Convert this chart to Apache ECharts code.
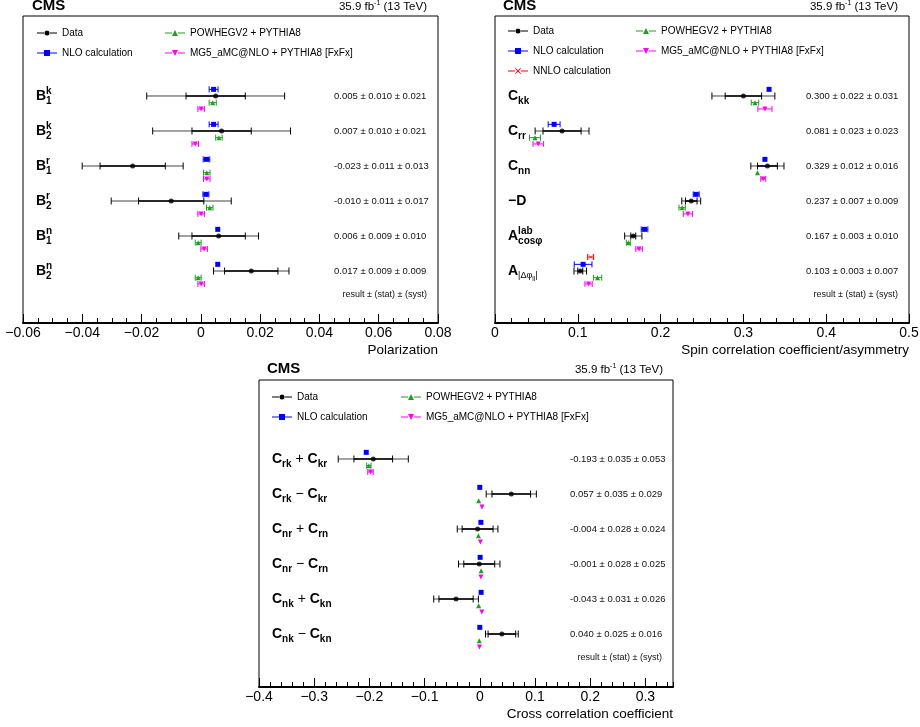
<!DOCTYPE html>
<html><head><meta charset="utf-8">
<script src="https://cdn.jsdelivr.net/npm/echarts/dist/echarts.min.js"></script>
<style>html,body{margin:0;padding:0;background:#fff}#c{width:920px;height:727px}</style>
</head><body><div id="c"></div>
<script>
const FONT = "'Liberation Sans', Arial, Helvetica, sans-serif";

// ---------- Panel 1: polarization ----------
const polLabels = [
  [['B','m'],['k','p'],['1','b']],
  [['B','m'],['k','p'],['2','b']],
  [['B','m'],['r','p'],['1','b']],
  [['B','m'],['r','p'],['2','b']],
  [['B','m'],['n','p'],['1','b']],
  [['B','m'],['n','p'],['2','b']]
];
const polData   = [0.005, 0.007, -0.023, -0.010, 0.006, 0.017];
const polStat   = [0.010, 0.010, 0.011, 0.011, 0.009, 0.009];
const polSyst   = [0.021, 0.021, 0.013, 0.017, 0.010, 0.009];
const polNLO    = [0.0043, 0.0043, 0.0019, 0.0017, 0.0057, 0.0057];
const polNLOErr = [0.0015, 0.0015, 0.0011, 0.0010, 0, 0];
const polPow    = [0.0040, 0.0061, 0.0020, 0.0030, -0.0009, -0.0009];
const polPowErr = [0.0012, 0.0011, 0.0011, 0.0011, 0.0010, 0.0010];
const polMG     = [0.0001, -0.0019, 0.0020, 0.0001, 0.0011, 0.0001];
const polMGErr  = [0.0011, 0.0011, 0.0011, 0.0011, 0.0011, 0.0011];
const polAxis   = [-0.06, 0.08, 0.02];   // min, max, interval

// ---------- Panel 2: spin correlations ----------
const spinLabels = [
  [['C','m'],['kk','b']],
  [['C','m'],['rr','b']],
  [['C','m'],['nn','b']],
  [['−D','m']],
  [['A','m'],['lab','p'],['cosφ','b']],
  [['A','m'],['|Δφ','bn'],['ll','bb'],['|','bn']]
];
const spinData    = [0.300, 0.081, 0.329, 0.237, 0.167, 0.103];
const spinStat    = [0.022, 0.023, 0.012, 0.007, 0.003, 0.003];
const spinSyst    = [0.031, 0.023, 0.016, 0.009, 0.010, 0.007];
const spinNLO     = [0.331, 0.0714, 0.326, 0.243, 0.1806, 0.1064];
const spinNLOErr  = [0, 0.0072, 0, 0.0036, 0.0040, 0.0107];
const spinNNLO    = [null, null, null, null, null, 0.1155];
const spinNNLOErr = [0, 0, 0, 0, 0, 0.0036];
const spinPow     = [0.314, 0.0483, 0.317, 0.226, 0.161, 0.1239];
const spinPowErr  = [0.0045, 0.0066, 0, 0.0038, 0.0024, 0.0050];
const spinMG      = [0.326, 0.0523, 0.324, 0.233, 0.174, 0.113];
const spinMGErr   = [0.0085, 0.0064, 0.0030, 0.0056, 0.0040, 0.0044];
const spinAxis    = [0, 0.5, 0.1];

// ---------- Panel 3: cross correlations ----------
const crossLabels = [
  [['C','m'],['rk','b'],[' + ','o'],['C','m'],['kr','b']],
  [['C','m'],['rk','b'],[' − ','o'],['C','m'],['kr','b']],
  [['C','m'],['nr','b'],[' + ','o'],['C','m'],['rn','b']],
  [['C','m'],['nr','b'],[' − ','o'],['C','m'],['rn','b']],
  [['C','m'],['nk','b'],[' + ','o'],['C','m'],['kn','b']],
  [['C','m'],['nk','b'],[' − ','o'],['C','m'],['kn','b']]
];
const crossData   = [-0.193, 0.057, -0.004, -0.001, -0.043, 0.040];
const crossStat   = [0.035, 0.035, 0.028, 0.028, 0.031, 0.025];
const crossSyst   = [0.053, 0.029, 0.024, 0.025, 0.026, 0.016];
const crossNLO    = [-0.2057, 0.0, 0.0020, 0.0006, 0.0024, 0.0];
const crossNLOErr = [0, 0, 0, 0, 0, 0];
const crossPow    = [-0.201, -0.002, -0.0025, 0.0024, -0.002, -0.001];
const crossPowErr = [0.004, 0, 0, 0, 0, 0];
const crossMG     = [-0.198, 0.004, 0.001, 0.002, 0.0036, -0.0006];
const crossMGErr  = [0.005, 0, 0, 0, 0, 0];
const crossAxis   = [-0.4, 0.35, 0.1];

const NAMES = {
  data: 'Data', nlo: 'NLO calculation', nnlo: 'NNLO calculation',
  pow: 'POWHEGV2 + PYTHIA8', mg: 'MG5_aMC@NLO + PYTHIA8 [FxFx]'
};
const COLORS = { data:'#000000', nlo:'#0000ff', nnlo:'#ff0000', pow:'#1f9f1f', mg:'#ff00ff' };

// ---------- helpers ----------
const mctx = document.createElement('canvas').getContext('2d');
function textW(t, font){ mctx.font = font; return mctx.measureText(t).width; }
const KIND = {
  m:{size:14, dy:0, w:'bold'},
  o:{size:14, dy:0, w:'normal'},
  p:{size:10, dy:-4.5, w:'bold'},
  b:{size:10, dy:5, w:'bold'},
  bn:{size:9, dy:5, w:'normal'},
  bb:{size:6.5, dy:8, w:'normal'}
};
function fmt3(v){ return v.toFixed(3); }
function fmtTick(v){
  const r = +(+v).toFixed(6);
  if (r === 0) return '0';
  return (r < 0 ? '−' : '') + String(Math.abs(r));
}

const X_SYM = 'path://M0.5,0L5,4.3L9.5,0L10,0.5L5.7,5L10,9.5L9.5,10L5,5.7L0.5,10L0,9.5L4.3,5L0,0.5Z';
const TRI_DOWN = 'path://M0,0L10,0L5,10Z';

function labelSeries(gi, cats, v, st, sy, xMin, xMax) {
  const data = cats.map((c, i) => [xMin, i]);
  data.push([xMax, 5.67]);
  return {
    type:'custom', xAxisIndex:gi, yAxisIndex:gi, silent:true, z:3,
    encode:{x:0, y:1}, data,
    renderItem(params, api){
      const i = params.dataIndex;
      const p = api.coord([api.value(0), api.value(1)]);
      if (i >= cats.length) {
        return {type:'text', x:p[0]-11, y:p[1], style:{text:'result ± (stat) ± (syst)',
          font:'9px '+FONT, fill:'#111', align:'right', verticalAlign:'middle'}};
      }
      const children = [];
      let x = p[0] + 13; const y = p[1];
      let last = null, supStart = 0;
      cats[i].forEach(([t, k]) => {
        const K = KIND[k]; const f = K.w + ' ' + K.size + 'px ' + FONT;
        const w = textW(t, f);
        let xx = x;
        if (k === 'b' && last === 'p') xx = supStart;
        children.push({type:'text', x:xx, y:y+K.dy, style:{text:t, font:f, fill:'#000', align:'left', verticalAlign:'middle'}});
        if (k === 'p') { supStart = x; x = x + w; }
        else if (k === 'b' && last === 'p') x = Math.max(x, xx + w);
        else x = xx + w;
        last = k;
      });
      children.push({type:'text', x:p[0]+311, y:y, style:{
        text: fmt3(v[i]) + ' ± ' + fmt3(st[i]) + ' ± ' + fmt3(sy[i]),
        font:'9.5px '+FONT, fill:'#111', align:'left', verticalAlign:'middle'}});
      return {type:'group', children};
    }
  };
}

function modelSeries(gi, key, vals, errs, off, symbol, size) {
  const color = COLORS[key], name = NAMES[key];
  const data = [];
  vals.forEach((v, i) => { if (v == null) return; const e = errs[i] || 0; data.push([v, v - e, v + e, i + off]); });
  return [{
    type:'custom', name, xAxisIndex:gi, yAxisIndex:gi, silent:true, z:2,
    encode:{x:[1,2], y:3}, data,
    renderItem(params, api){
      const a = api.coord([api.value(1), api.value(3)]);
      const b = api.coord([api.value(2), api.value(3)]);
      if (b[0] - a[0] < 1) return {type:'group', children:[]};
      const y = a[1];
      const st = {stroke:color, lineWidth:1};
      return {type:'group', children:[
        {type:'line', shape:{x1:a[0], y1:y, x2:b[0], y2:y}, style:st},
        {type:'line', shape:{x1:a[0], y1:y-3, x2:a[0], y2:y+3}, style:st},
        {type:'line', shape:{x1:b[0], y1:y-3, x2:b[0], y2:y+3}, style:st}
      ]};
    }
  }, {
    type:'scatter', name, xAxisIndex:gi, yAxisIndex:gi, silent:true, z:4,
    encode:{x:0, y:3}, data, symbol, symbolSize:size,
    itemStyle:{color, opacity:1}
  }];
}

function dataSeries(gi, vals, stat, syst) {
  const data = vals.map((v, i) => {
    const tot = Math.sqrt(stat[i]*stat[i] + syst[i]*syst[i]);
    return [v, v - tot, v + tot, v - stat[i], v + stat[i], i];
  });
  return [{
    type:'custom', name:NAMES.data, xAxisIndex:gi, yAxisIndex:gi, silent:true, z:2,
    encode:{x:[1,2], y:5}, data,
    renderItem(params, api){
      const y = api.coord([api.value(0), api.value(5)])[1];
      const xs = [1,2,3,4].map(d => api.coord([api.value(d), api.value(5)])[0]);
      const outer = {stroke:'#444', lineWidth:1};
      const inner = {stroke:'#000', lineWidth:1.6};
      const cap = {stroke:'#000', lineWidth:1};
      return {type:'group', children:[
        {type:'line', shape:{x1:xs[0], y1:y, x2:xs[1], y2:y}, style:outer},
        {type:'line', shape:{x1:xs[2], y1:y, x2:xs[3], y2:y}, style:inner},
        {type:'line', shape:{x1:xs[0], y1:y-3.5, x2:xs[0], y2:y+3.5}, style:cap},
        {type:'line', shape:{x1:xs[1], y1:y-3.5, x2:xs[1], y2:y+3.5}, style:cap},
        {type:'line', shape:{x1:xs[2], y1:y-3.5, x2:xs[2], y2:y+3.5}, style:cap},
        {type:'line', shape:{x1:xs[3], y1:y-3.5, x2:xs[3], y2:y+3.5}, style:cap}
      ]};
    }
  }, {
    type:'scatter', name:NAMES.data, xAxisIndex:gi, yAxisIndex:gi, silent:true, z:5,
    encode:{x:0, y:5}, data, symbol:'circle', symbolSize:5, itemStyle:{color:'#000'}
  }];
}

function xAxisDef(gi, ax, split, name, showMax) {
  return {
    type:'value', gridIndex:gi, min:ax[0], max:ax[1], interval:ax[2], position:'bottom',
    axisLine:{show:true, onZero:false, lineStyle:{color:'#000', width:2}},
    axisTick:{show:true, inside:true, length:9, lineStyle:{color:'#000', width:1}},
    minorTick:{show:split > 0, splitNumber:split || 5, length:5, lineStyle:{color:'#000', width:1}},
    splitLine:{show:false}, minorSplitLine:{show:false},
    axisLabel:{show:true, margin:3, fontSize:14, fontFamily:FONT, color:'#000', formatter:fmtTick,
      showMinLabel:true, showMaxLabel:showMax},
    name, nameLocation:'end', nameGap:0,
    nameTextStyle:{fontSize:13.5, fontFamily:FONT, color:'#000', align:'right', verticalAlign:'top', padding:[20,0,0,0]}
  };
}
function yAxisDef(gi, min, max) {
  return {type:'value', gridIndex:gi, min, max, inverse:true, show:false,
    axisLine:{show:false, onZero:false}, axisTick:{show:false}, axisLabel:{show:false}, splitLine:{show:false}};
}

const ICON_LINE = 'M0,2.5H7V3.5H0Z M13,2.5H20V3.5H13Z ';
const ICONS = {
  data: 'path://' + ICON_LINE + 'M10,0.5A2.5,2.5 0 1,1 10,5.5A2.5,2.5 0 1,1 10,0.5Z M10,0H10.01V6H10Z',
  nlo:  'path://' + ICON_LINE + 'M7,0H13V6H7Z',
  nnlo: 'path://' + ICON_LINE + 'M7.5,0L10,2.3L12.5,0L13,0.5L10.7,3L13,5.5L12.5,6L10,3.7L7.5,6L7,5.5L9.3,3L7,0.5Z',
  pow:  'path://' + ICON_LINE + 'M7,6L10,0L13,6Z',
  mg:   'path://' + ICON_LINE + 'M7,0H13L10,6Z'
};
function leg(left, rowY, key) {
  return {left, top:rowY - 6, padding:0, itemWidth:20, itemHeight:6, selectedMode:false,
    orient:'horizontal', textStyle:{fontSize:10, fontFamily:FONT, color:'#000'},
    data:[{name:NAMES[key], icon:ICONS[key], itemStyle:{color:COLORS[key], borderWidth:0}}]};
}

const grids = [
  {left:23, top:16, width:415, height:307},
  {left:495, top:16, width:414, height:307},
  {left:259, top:380, width:414, height:307},
  {left:259, top:380, width:414, height:307}
].map((g, i) => Object.assign({show:i < 3, borderColor:'#000', borderWidth:1, containLabel:false, outerBoundsMode:'none'}, g));

const OFF = {nnlo:-0.4, nlo:-0.19, pow:0.19, mg:0.37};

const series = [].concat(
  labelSeries(0, polLabels, polData, polStat, polSyst, polAxis[0], polAxis[1]),
  modelSeries(0, 'nlo', polNLO, polNLOErr, OFF.nlo, 'rect', 5),
  modelSeries(0, 'pow', polPow, polPowErr, OFF.pow, 'triangle', 5),
  modelSeries(0, 'mg', polMG, polMGErr, OFF.mg, TRI_DOWN, 5),
  dataSeries(0, polData, polStat, polSyst),

  labelSeries(1, spinLabels, spinData, spinStat, spinSyst, spinAxis[0], spinAxis[1]),
  modelSeries(1, 'nnlo', spinNNLO, spinNNLOErr, OFF.nnlo, X_SYM, 5),
  modelSeries(1, 'nlo', spinNLO, spinNLOErr, OFF.nlo, 'rect', 5),
  modelSeries(1, 'pow', spinPow, spinPowErr, OFF.pow, 'triangle', 5),
  modelSeries(1, 'mg', spinMG, spinMGErr, OFF.mg, TRI_DOWN, 5),
  dataSeries(1, spinData, spinStat, spinSyst),

  labelSeries(2, crossLabels, crossData, crossStat, crossSyst, crossAxis[0], crossAxis[1]),
  modelSeries(2, 'nlo', crossNLO, crossNLOErr, OFF.nlo, 'rect', 5),
  modelSeries(2, 'pow', crossPow, crossPowErr, OFF.pow, 'triangle', 5),
  modelSeries(2, 'mg', crossMG, crossMGErr, OFF.mg, TRI_DOWN, 5),
  dataSeries(2, crossData, crossStat, crossSyst)
);

const minorAxis3 = {
  type:'value', gridIndex:3, min:crossAxis[0], max:crossAxis[1], interval:0.02, position:'bottom',
  axisLine:{show:false, onZero:false}, axisTick:{show:true, inside:true, length:5, lineStyle:{color:'#000', width:1}},
  axisLabel:{show:false}, splitLine:{show:false}
};

function lumiGraphics(right, y) {
  const f1 = '11.5px ' + FONT, fs = '7px ' + FONT;
  const t3 = ' (13 TeV)', ts = '-1', t1 = '35.9 fb';
  const w3 = textW(t3, f1), ws = textW(ts, fs);
  return [
    {type:'text', x:right, y, style:{text:t3, font:f1, fill:'#000', align:'right', verticalAlign:'middle'}},
    {type:'text', x:right - w3, y:y-4, style:{text:ts, font:fs, fill:'#000', align:'right', verticalAlign:'middle'}},
    {type:'text', x:right - w3 - ws, y, style:{text:t1, font:f1, fill:'#000', align:'right', verticalAlign:'middle'}}
  ];
}
const cmsStyle = {text:'CMS', font:'bold 15px ' + FONT, fill:'#000', align:'left', verticalAlign:'middle'};

const option = {
  animation:false,
  backgroundColor:'#fff',
  grid: grids,
  xAxis: [
    xAxisDef(0, polAxis, 4, 'Polarization', true),
    xAxisDef(1, spinAxis, 5, 'Spin correlation coefficient/asymmetry', true),
    xAxisDef(2, crossAxis, 0, 'Cross correlation coefficient', false),
    minorAxis3
  ],
  yAxis: [
    yAxisDef(0, -2.2857, 6.4857),
    yAxisDef(1, -2.2857, 6.4857),
    yAxisDef(2, -2.257, 6.514),
    yAxisDef(3, -2.257, 6.514)
  ],
  legend: [
    leg(37, 34, 'data'), leg(37, 54, 'nlo'), leg(165, 34, 'pow'), leg(165, 54, 'mg'),
    leg(508, 32, 'data'), leg(508, 52, 'nlo'), leg(508, 72, 'nnlo'), leg(636, 32, 'pow'), leg(636, 52, 'mg'),
    leg(272, 398, 'data'), leg(272, 418, 'nlo'), leg(401, 398, 'pow'), leg(401, 418, 'mg')
  ],
  graphic: [
    {type:'text', x:32, y:6, style:cmsStyle},
    {type:'text', x:503, y:6, style:cmsStyle},
    {type:'text', x:267, y:369, style:cmsStyle}
  ].concat(lumiGraphics(427, 7), lumiGraphics(898, 7), lumiGraphics(663, 370)),
  series
};

const chart = echarts.init(document.getElementById('c'), null, {renderer:'canvas'});
chart.setOption(option);
</script>
</body></html>
